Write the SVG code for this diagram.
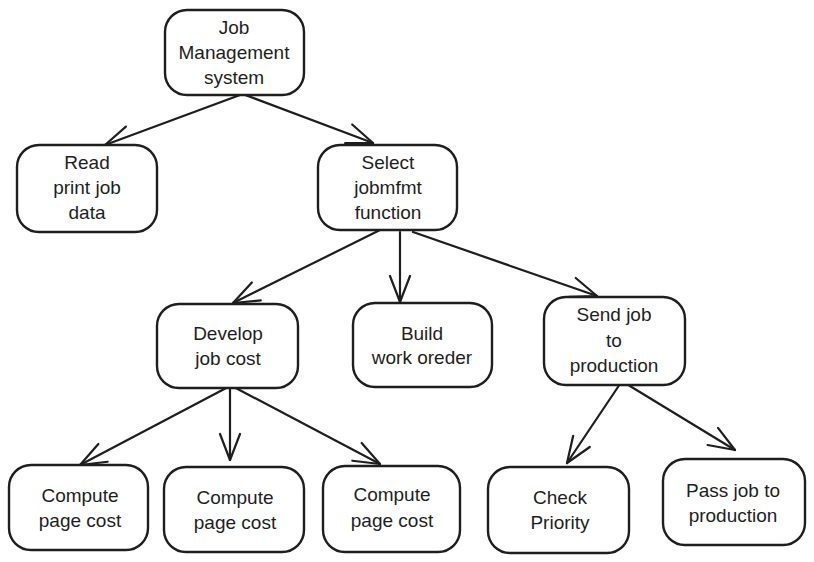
<svg xmlns="http://www.w3.org/2000/svg" width="814" height="562" viewBox="0 0 814 562">
<defs>
<marker id="ah" markerUnits="userSpaceOnUse" markerWidth="60" markerHeight="60" refX="0" refY="0" viewBox="-40 -30 60 60" orient="auto" overflow="visible">
<path d="M -26 -10 L 0 0 L -26 10" fill="none" stroke="#1e1e1e" stroke-width="2.2" stroke-linecap="round" stroke-linejoin="round"/>
</marker>
</defs>
<style>
.box{fill:#ffffff;stroke:#1e1e1e;stroke-width:2.4}
.t{font-family:"Liberation Sans","DejaVu Sans",sans-serif;font-size:19px;fill:#1e1e1e;text-anchor:middle}
.c{fill:none;stroke:#1e1e1e;stroke-width:2.2;stroke-linecap:round;marker-end:url(#ah)}
</style>
<rect width="814" height="562" fill="#ffffff"/>
<g id="connectors">
<path class="c" d="M 240 95 L 105 145"/>
<path class="c" d="M 240 93 L 373 143"/>
<path class="c" d="M 380 230 L 233 303"/>
<path class="c" d="M 400 232 L 400 302"/>
<path class="c" d="M 413 232 L 597 296"/>
<path class="c" d="M 230 386 L 80 465"/>
<path class="c" d="M 230 386 L 230 460"/>
<path class="c" d="M 232 386 L 380 464"/>
<path class="c" d="M 620 384 L 567 463"/>
<path class="c" d="M 625 383 L 735 450"/>
</g>
<g id="job-management">
<rect class="box" x="165" y="10" width="139" height="85" rx="22"/>
<text class="t" x="234" y="34">Job</text>
<text class="t" x="234" y="59">Management</text>
<text class="t" x="234" y="84">system</text>
</g>
<g id="read-print">
<rect class="box" x="17" y="145" width="140" height="87" rx="22"/>
<text class="t" x="87" y="169">Read</text>
<text class="t" x="87" y="194">print job</text>
<text class="t" x="87" y="219">data</text>
</g>
<g id="select-jobmfmt">
<rect class="box" x="318" y="145" width="139" height="85" rx="22"/>
<text class="t" x="388" y="169">Select</text>
<text class="t" x="388" y="194">jobmfmt</text>
<text class="t" x="388" y="219">function</text>
</g>
<g id="develop-job-cost">
<rect class="box" x="157" y="304" width="141" height="84" rx="22"/>
<text class="t" x="228" y="340">Develop</text>
<text class="t" x="228" y="365">job cost</text>
</g>
<g id="build-work-order">
<rect class="box" x="353" y="303" width="139" height="84" rx="22"/>
<text class="t" x="422" y="340">Build</text>
<text class="t" x="422" y="364">work oreder</text>
</g>
<g id="send-job">
<rect class="box" x="544" y="297" width="141" height="88" rx="22"/>
<text class="t" x="614" y="321">Send job</text>
<text class="t" x="614" y="347">to</text>
<text class="t" x="614" y="372">production</text>
</g>
<g id="compute-1">
<rect class="box" x="9" y="465" width="139" height="85" rx="22"/>
<text class="t" x="80" y="502">Compute</text>
<text class="t" x="80" y="527">page cost</text>
</g>
<g id="compute-2">
<rect class="box" x="164" y="467" width="140" height="85" rx="22"/>
<text class="t" x="235" y="504">Compute</text>
<text class="t" x="235" y="529">page cost</text>
</g>
<g id="compute-3">
<rect class="box" x="323" y="466" width="137" height="86" rx="22"/>
<text class="t" x="392" y="501">Compute</text>
<text class="t" x="392" y="527">page cost</text>
</g>
<g id="check-priority">
<rect class="box" x="488" y="467" width="141" height="86" rx="22"/>
<text class="t" x="560" y="504">Check</text>
<text class="t" x="560" y="529">Priority</text>
</g>
<g id="pass-job">
<rect class="box" x="663" y="459" width="142" height="86" rx="22"/>
<text class="t" x="733" y="497">Pass job to</text>
<text class="t" x="733" y="522">production</text>
</g>
</svg>
